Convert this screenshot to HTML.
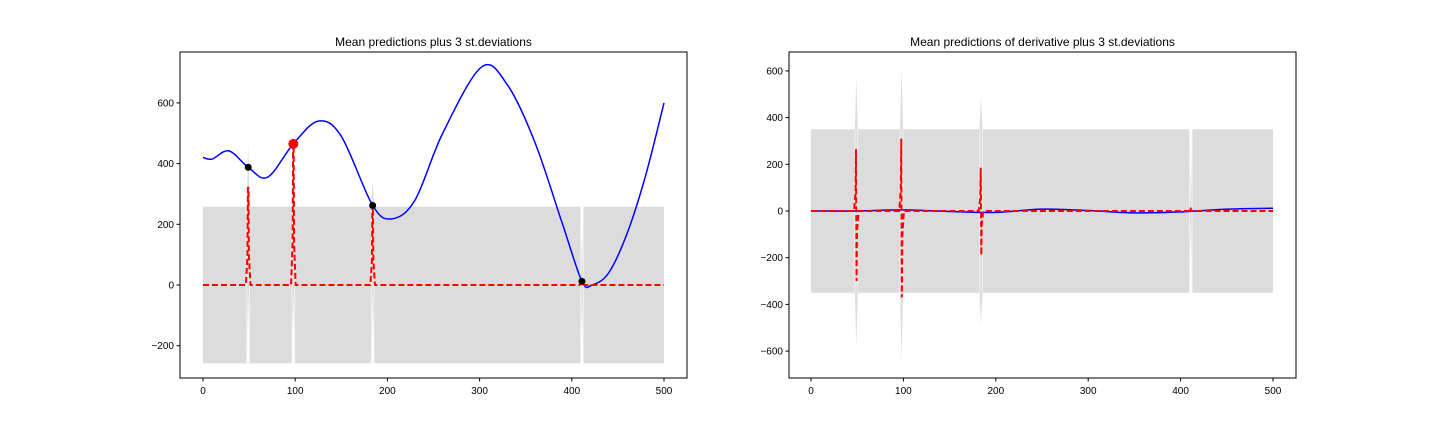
<!DOCTYPE html>
<html><head><meta charset="utf-8"><style>
body{margin:0;background:#fff;width:1440px;height:432px;overflow:hidden}
svg text{font-family:"Liberation Sans",sans-serif;}
</style></head><body>
<svg id="c" width="1440" height="432"></svg>
<script>
// ---- data: left chart ----
const meanX = [0,10,28,49,70,98,125,150,184,205,230,260,302,330,360,390,411,422,440,460,480,500];
const meanY = [420,415,442,388,355,465,540,490,262,218,280,500,718,660,470,200,12,0,40,170,360,600];
const obsX = [49,98,184,411];
const obsY = [388,465,262,12];
const bandHalf = 258;
const spikeTop = [465,460,340,20];
const redPeak = [320,465,262,12];
// ---- data: right chart ----
const dBandHalf = 350;
const dSpikeTop = [570,615,490,30];
const dSpikeBot = [-590,-650,-490,-30];
const dRedTop = [265,310,185,15];
const dRedBot = [-300,-370,-190,0];
const dMeanX = [0,50,100,150,200,250,300,350,400,450,500];
const dMeanY = [0,0,5,-2,-6,8,2,-8,-4,8,12];

const NS="http://www.w3.org/2000/svg", svg=document.getElementById('c');
function mk(tag,attrs,parent,name){const e=document.createElementNS(NS,tag);for(const k in attrs)e.setAttribute(k,attrs[k]);


(parent||svg).appendChild(e);return e;}
function smooth(xs,ys,X,Y){let d='';const n=xs.length;
 for(let i=0;i<n-1;i++){const p0=i?i-1:i,p3=i+2<n?i+2:i+1;
  const x1=X(xs[i]),y1=Y(ys[i]),x2=X(xs[i+1]),y2=Y(ys[i+1]);
  const c1x=x1+(X(xs[i+1])-X(xs[p0]))/6,c1y=y1+(Y(ys[i+1])-Y(ys[p0]))/6;
  const c2x=x2-(X(xs[p3])-X(xs[i]))/6,c2y=y2-(Y(ys[p3])-Y(ys[i]))/6;
  if(!i)d+='M'+x1+','+y1;d+=` C${c1x},${c1y} ${c2x},${c2y} ${x2},${y2}`;}return d;}

function chart(cfg){
 const g=mk('g',{},svg,cfg.name);
 const X=v=>cfg.x0+(v)*(cfg.x1-cfg.x0)/500, Y=v=>cfg.y0-(v)*cfg.ys;
 const gapW=2.2;
 let top=`M${X(0)},${Y(cfg.band)}`;
 obsX.forEach((o,i)=>{top+=` L${X(o)-gapW},${Y(cfg.band)} L${X(o)-1.4},${Y(cfg.band)} L${X(o)},${Y(cfg.sTop[i])} L${X(o)+1.4},${Y(cfg.band)} L${X(o)+gapW},${Y(cfg.band)}`;});
 top+=` L${X(500)},${Y(cfg.band)} L${X(500)},${Y(-cfg.band)}`;
 for(let i=obsX.length-1;i>=0;i--){const o=obsX[i];top+=` L${X(o)+gapW},${Y(-cfg.band)} L${X(o)+1.4},${Y(-cfg.band)} L${X(o)},${Y(cfg.sBot[i])} L${X(o)-1.4},${Y(-cfg.band)} L${X(o)-gapW},${Y(-cfg.band)}`;}
 top+=` L${X(0)},${Y(-cfg.band)} Z`;
 mk('path',{d:top,fill:'#dcdcdc'},g,'confidence-band');
 obsX.forEach(o=>{mk('rect',{x:X(o)-1.8,y:Y(cfg.band),width:0.9,height:Y(-cfg.band)-Y(cfg.band),fill:'#f2f2f2'},g,'band-gap');mk('rect',{x:X(o)+0.9,y:Y(cfg.band),width:0.9,height:Y(-cfg.band)-Y(cfg.band),fill:'#f2f2f2'},g,'band-gap');});
 mk('path',{d:smooth(cfg.mx,cfg.my,X,Y),fill:'none',stroke:'#0000ff','stroke-width':1.5},g,'mean-line');
 let r=`M${X(0)},${Y(0)}`;
 obsX.forEach((o,i)=>{r+=` L${X(o-2.5)},${Y(0)} L${X(o-0.8)},${Y(cfg.rTop[i]*0.3)} L${X(o-0.3)},${Y(cfg.rTop[i])} L${X(o+0.3)},${Y(cfg.rBot[i])} L${X(o+0.8)},${Y(cfg.rBot[i]*0.3)} L${X(o+2.5)},${Y(0)}`;});
 r+=` L${X(500)},${Y(0)}`;
 mk('path',{d:r,fill:'none',stroke:'#ff0000','stroke-width':2,'stroke-dasharray':'6,3'},g,'std-dashed-line');
 if(cfg.points){obsX.forEach((o,i)=>mk('circle',{cx:X(o),cy:Y(obsY[i]),r:3.5,fill:'#000'},g,'observation-point'));
  mk('circle',{cx:X(98),cy:Y(465),r:5,fill:'#ff0000'},g,'next-sample-point');}
 mk('rect',{x:cfg.bx0,y:52,width:cfg.bx1-cfg.bx0,height:326,fill:'none',stroke:'#000','stroke-width':1},g,'axes-frame');
 [0,100,200,300,400,500].forEach(v=>{mk('line',{x1:X(v),x2:X(v),y1:378,y2:381.5,stroke:'#000'},g,'x-tick');
  const t=mk('text',{x:X(v),y:394,'font-size':10,'text-anchor':'middle'},g,'x-tick-label');t.textContent=v;});
 cfg.yt.forEach(v=>{mk('line',{x1:cfg.bx0-3.5,x2:cfg.bx0,y1:Y(v),y2:Y(v),stroke:'#000'},g,'y-tick');
  const t=mk('text',{x:cfg.bx0-6,y:Y(v)+3.5,'font-size':10,'text-anchor':'end'},g,'y-tick-label');t.textContent=v===0?'0':(v<0?'\u2212'+(-v):v);});
 const t=mk('text',{x:(cfg.bx0+cfg.bx1)/2,y:46,'font-size':12,'text-anchor':'middle'},g,'chart-title');t.textContent=cfg.title;
}
chart({name:'left-chart',x0:203,x1:664,y0:285,ys:0.3035,bx0:180,bx1:687,band:bandHalf,sTop:spikeTop,sBot:spikeTop.map(v=>-20),
 rTop:redPeak,rBot:redPeak,mx:meanX,my:meanY,points:true,yt:[-200,0,200,400,600],title:'Mean predictions plus 3 st.deviations'});
chart({name:'right-chart',x0:811,x1:1273,y0:211,ys:0.2335,bx0:789,bx1:1296,band:dBandHalf,sTop:dSpikeTop,sBot:dSpikeBot,
 rTop:dRedTop,rBot:dRedBot,mx:dMeanX,my:dMeanY,points:false,yt:[-600,-400,-200,0,200,400,600],title:'Mean predictions of derivative plus 3 st.deviations'});
</script>
</body></html>
